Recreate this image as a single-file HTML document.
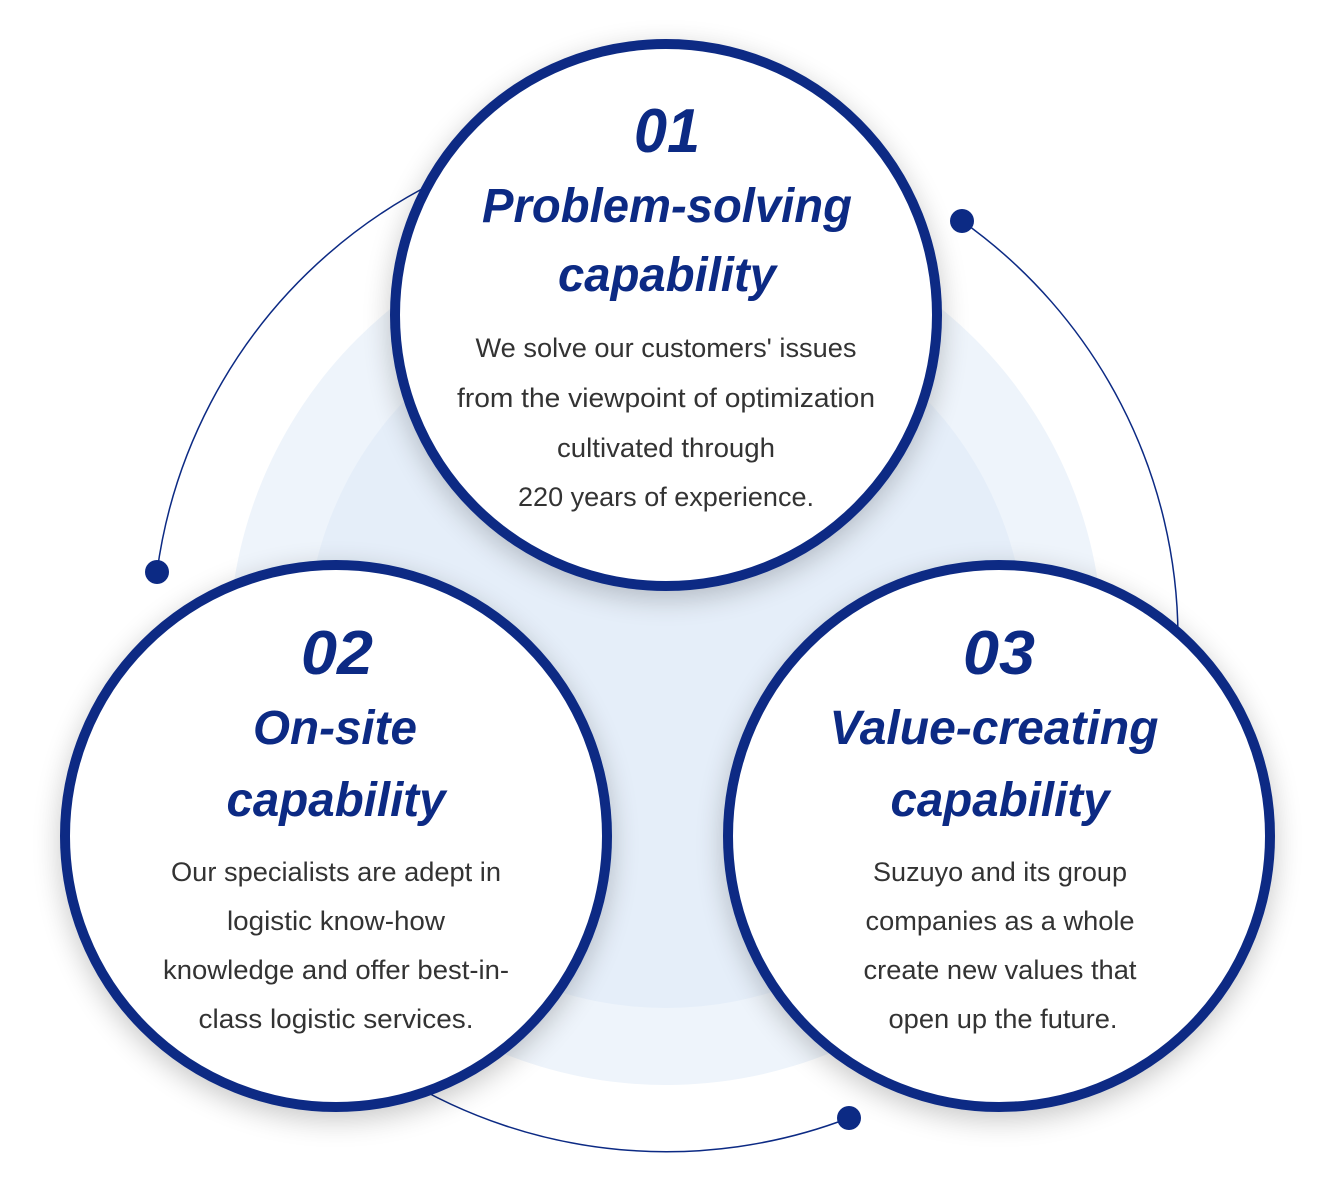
<!DOCTYPE html>
<html><head><meta charset="utf-8"><style>
html,body{margin:0;padding:0;background:#fff;}
svg{display:block}
.n{font-family:"Liberation Sans Narrow","Liberation Sans",sans-serif;font-weight:bold;font-style:italic;fill:#0c2a84;}
.b{font-family:"Liberation Sans Narrow","Liberation Sans",sans-serif;fill:#333;font-size:27px;}
</style></head><body>
<svg width="1340" height="1198" viewBox="0 0 1340 1198" xmlns="http://www.w3.org/2000/svg">
<defs>
<filter id="sh" x="-30%" y="-30%" width="160%" height="160%">
<feGaussianBlur in="SourceAlpha" stdDeviation="14"/>
<feOffset dy="8"/>
<feComponentTransfer><feFuncA type="linear" slope="0.22"/></feComponentTransfer>
<feMerge><feMergeNode/><feMergeNode in="SourceGraphic"/></feMerge>
</filter>
</defs>
<circle cx="666" cy="648" r="437" fill="#eef4fb"/>
<circle cx="666" cy="648" r="360" fill="#e5eef9"/>
<g fill="none" stroke="#0c2a84" stroke-width="1.5">
<path d="M157,572 A512,512 0 0 1 666,128"/>
<path d="M962,221 A512,512 0 0 1 1178,640"/>
<path d="M400,1077 A512,512 0 0 0 849,1118"/>
</g>
<g fill="#0c2a84">
<circle cx="157" cy="572" r="12"/>
<circle cx="962" cy="221" r="12"/>
<circle cx="849" cy="1118" r="12"/>
</g>
<g fill="#fff" stroke="#0c2a84" stroke-width="10" filter="url(#sh)">
<circle cx="666" cy="315" r="271"/>
<circle cx="336" cy="836" r="271"/>
<circle cx="999" cy="836" r="271"/>
</g>
<g text-anchor="middle">
<text class="n" x="667" y="152" font-size="62" textLength="66" lengthAdjust="spacingAndGlyphs">01</text>
<text class="n" x="667" y="222" font-size="48" textLength="370" lengthAdjust="spacingAndGlyphs">Problem-solving</text>
<text class="n" x="667" y="291" font-size="48" textLength="218" lengthAdjust="spacingAndGlyphs">capability</text>
<text class="b" x="666" y="357" textLength="381" lengthAdjust="spacingAndGlyphs">We solve our customers' issues</text>
<text class="b" x="666" y="407" textLength="418" lengthAdjust="spacingAndGlyphs">from the viewpoint of optimization</text>
<text class="b" x="666" y="457" textLength="218" lengthAdjust="spacingAndGlyphs">cultivated through</text>
<text class="b" x="666" y="506" textLength="296" lengthAdjust="spacingAndGlyphs">220 years of experience.</text>

<text class="n" x="337" y="674" font-size="62" textLength="72" lengthAdjust="spacingAndGlyphs">02</text>
<text class="n" x="335" y="744" font-size="48" textLength="164" lengthAdjust="spacingAndGlyphs">On-site</text>
<text class="n" x="336" y="816" font-size="48" textLength="219" lengthAdjust="spacingAndGlyphs">capability</text>
<text class="b" x="336" y="881" textLength="330" lengthAdjust="spacingAndGlyphs">Our specialists are adept in</text>
<text class="b" x="336" y="930" textLength="218" lengthAdjust="spacingAndGlyphs">logistic know-how</text>
<text class="b" x="336" y="979" textLength="346" lengthAdjust="spacingAndGlyphs">knowledge and offer best-in-</text>
<text class="b" x="336" y="1028" textLength="275" lengthAdjust="spacingAndGlyphs">class logistic services.</text>

<text class="n" x="999" y="674" font-size="62" textLength="72" lengthAdjust="spacingAndGlyphs">03</text>
<text class="n" x="994" y="744" font-size="48" textLength="329" lengthAdjust="spacingAndGlyphs">Value-creating</text>
<text class="n" x="1000" y="816" font-size="48" textLength="219" lengthAdjust="spacingAndGlyphs">capability</text>
<text class="b" x="1000" y="881" textLength="254" lengthAdjust="spacingAndGlyphs">Suzuyo and its group</text>
<text class="b" x="1000" y="930" textLength="269" lengthAdjust="spacingAndGlyphs">companies as a whole</text>
<text class="b" x="1000" y="979" textLength="273" lengthAdjust="spacingAndGlyphs">create new values that</text>
<text class="b" x="1003" y="1028" textLength="229" lengthAdjust="spacingAndGlyphs">open up the future.</text>
</g>
</svg>
</body></html>
